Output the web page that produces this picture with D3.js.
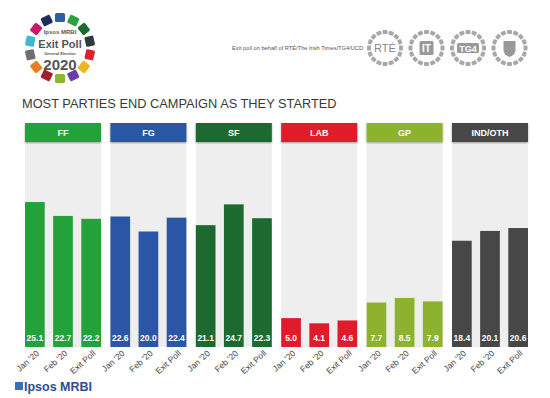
<!DOCTYPE html>
<html>
<head>
<meta charset="utf-8">
<script src="https://cdn.jsdelivr.net/npm/d3@7"></script>
<style>
body { margin: 0; background: #fff; }
svg { display: block; font-family: "Liberation Sans", Arial, sans-serif; }
</style>
</head>
<body>
<svg width="550" height="398"></svg>
<script>
var parties = ["FF", "FG", "SF", "LAB", "GP", "IND/OTH"];
var partyColors = ["#23a23b", "#2b56a6", "#1d6a30", "#e11b2b", "#8db32e", "#474747"];
var polls = ["Jan '20", "Feb '20", "Exit Poll"];
var janValues = [25.1, 22.6, 21.1, 5.0, 7.7, 18.4];
var febValues = [22.7, 20.0, 24.7, 4.1, 8.5, 20.1];
var exitValues = [22.2, 22.4, 22.3, 4.6, 7.9, 20.6];
var logoColors = ["#2b5cb0", "#2aa040", "#1d6a30", "#2f3c3c", "#e0202e", "#e8b820", "#6b3fa2",
                  "#8ab82e", "#a31d2a", "#ea7d1e", "#6c7072", "#3cb9cd", "#c9186c", "#1f2b5c"];

var svg = d3.select("svg");

var data = parties.map(function(p, i) {
    return { party: p, color: partyColors[i], values: [janValues[i], febValues[i], exitValues[i]] };
});

// logo top left
var logo = svg.append("g").attr("transform", "translate(60,48)");
logo.selectAll("rect")
    .data(logoColors)
    .enter()
    .append("rect")
    .attr("x", -5).attr("y", -35).attr("width", 10).attr("height", 9).attr("rx", 1.5)
    .attr("fill", (d) => d)
    .attr("transform", (d, i) => "rotate(" + (i * 360 / logoColors.length) + ")");
logo.append("text").attr("y", -14).attr("text-anchor", "middle")
    .attr("font-size", 6).attr("font-weight", "bold").attr("fill", "#555").text("Ipsos MRBI");
logo.append("text").attr("y", 0).attr("text-anchor", "middle")
    .attr("font-size", 11).attr("font-weight", "bold").attr("fill", "#555").text("Exit Poll");
logo.append("text").attr("y", 6.5).attr("text-anchor", "middle")
    .attr("font-size", 4).attr("font-weight", "bold").attr("fill", "#555").text("General Election");
logo.append("text").attr("y", 22).attr("text-anchor", "middle")
    .attr("font-size", 15).attr("font-weight", "bold").attr("fill", "#555").text("2020");

// partners top right
svg.append("text")
    .attr("x", 232).attr("y", 50)
    .attr("font-size", 5.7).attr("fill", "#555")
    .text("Exit poll on behalf of RTÉ/The Irish Times/TG4/UCD");

var partners = ["RTE", "IT", "TG4", "UCD"];
var pg = svg.selectAll(".partner")
    .data(partners)
    .enter()
    .append("g")
    .attr("class", "partner")
    .attr("transform", (d, i) => "translate(" + (385 + i * 41.5) + ",48)");
pg.each(function() {
    d3.select(this).selectAll("rect")
        .data(d3.range(16))
        .enter()
        .append("rect")
        .attr("x", -2.5).attr("y", -18).attr("width", 5).attr("height", 4).attr("rx", 1)
        .attr("fill", "#a8a8a8")
        .attr("transform", (d) => "rotate(" + (d * 22.5) + ")");
});
pg.filter((d) => d == "RTE").append("text")
    .attr("text-anchor", "middle").attr("y", 4).attr("font-size", 11).attr("fill", "#888").text("RTÉ");
var itg = pg.filter((d) => d == "IT");
itg.append("rect").attr("x", -7).attr("y", -7).attr("width", 14).attr("height", 14).attr("rx", 1.5).attr("fill", "#999");
itg.append("text").attr("text-anchor", "middle").attr("y", 4).attr("font-size", 10)
    .attr("font-weight", "bold").attr("fill", "#fff").text("IT");
var tg = pg.filter((d) => d == "TG4");
tg.append("rect").attr("x", -11).attr("y", -5).attr("width", 22).attr("height", 10).attr("rx", 1.5).attr("fill", "#999");
tg.append("text").attr("text-anchor", "middle").attr("y", 3.5).attr("font-size", 9)
    .attr("font-weight", "bold").attr("fill", "#fff").text("TG4");
pg.filter((d) => d == "UCD").append("path")
    .attr("d", "M-6,-7 L6,-7 L6,2 Q6,7 0,9 Q-6,7 -6,2 Z").attr("fill", "#999");

// title
svg.append("text")
    .attr("x", 22).attr("y", 108)
    .attr("font-size", 12.8).attr("fill", "#3a3a3a")
    .text("MOST PARTIES END CAMPAIGN AS THEY STARTED");

// panels
var chartTop = 142, chartBottom = 347;
var xParty = d3.scaleBand().domain(parties).range([25, 528]).paddingInner(0.11);
var xPoll = d3.scaleBand().domain(polls).range([0, xParty.bandwidth()]).paddingInner(0.3);
var yScale = d3.scaleLinear().domain([0, 35.5]).range([chartBottom, chartTop]);

var defs = svg.append("defs");
defs.append("filter").attr("id", "shadow")
    .append("feDropShadow").attr("dx", 0).attr("dy", 1).attr("stdDeviation", 0.8).attr("flood-opacity", 0.35);

var panel = svg.selectAll(".panel")
    .data(data)
    .enter()
    .append("g")
    .attr("class", "panel")
    .attr("transform", (d) => "translate(" + xParty(d.party) + ",0)");

panel.append("rect")
    .attr("x", 0).attr("y", chartTop)
    .attr("width", xParty.bandwidth()).attr("height", chartBottom - chartTop)
    .attr("fill", "#eeeeee");

panel.append("rect")
    .attr("x", 0).attr("y", 123)
    .attr("width", xParty.bandwidth()).attr("height", 19)
    .attr("fill", (d) => d.color)
    .attr("filter", "url(#shadow)");

panel.append("text")
    .attr("x", xParty.bandwidth() / 2).attr("y", 136)
    .attr("text-anchor", "middle")
    .attr("font-size", 9).attr("font-weight", "bold").attr("fill", "#fff")
    .text((d) => d.party);

var bar = panel.selectAll(".bar")
    .data((d) => d.values.map(function(v, i) { return { poll: polls[i], value: v, color: d.color }; }))
    .enter()
    .append("g")
    .attr("class", "bar");

bar.append("rect")
    .attr("x", (d) => xPoll(d.poll))
    .attr("y", (d) => yScale(d.value))
    .attr("width", xPoll.bandwidth())
    .attr("height", (d) => chartBottom - yScale(d.value))
    .attr("fill", (d) => d.color);

bar.append("text")
    .attr("x", (d) => xPoll(d.poll) + xPoll.bandwidth() / 2)
    .attr("y", 341)
    .attr("text-anchor", "middle")
    .attr("font-size", 8.5).attr("font-weight", "bold").attr("fill", "#fff")
    .text((d) => d.value.toFixed(1));

bar.append("text")
    .attr("transform", (d) => "translate(" + (xPoll(d.poll) + xPoll.bandwidth() / 2 + 5) + ",354) rotate(-42)")
    .attr("text-anchor", "end")
    .attr("font-size", 8.5).attr("fill", "#444")
    .text((d) => d.poll);

// bottom logo
svg.append("rect").attr("x", 15).attr("y", 382).attr("width", 8).attr("height", 8).attr("fill", "#3a6fc0");
svg.append("text")
    .attr("x", 24).attr("y", 391)
    .attr("font-size", 12.5).attr("font-weight", "bold").attr("fill", "#2d4e8e")
    .text("Ipsos MRBI");
</script>
</body>
</html>
